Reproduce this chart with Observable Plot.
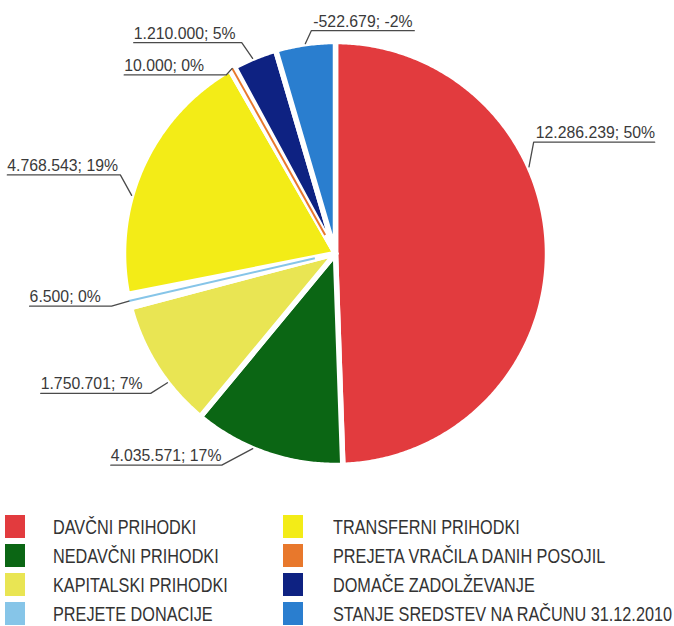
<!DOCTYPE html>
<html>
<head>
<meta charset="utf-8">
<script src="https://cdn.jsdelivr.net/npm/d3@7"></script>
<script src="https://cdn.jsdelivr.net/npm/@observablehq/plot@0.6"></script>
<style>
  html, body { margin: 0; padding: 0; background: #ffffff; }
  #wrap { position: relative; width: 674px; height: 626px; overflow: hidden; }
  #wrap svg { display: block; }
  .lg-item { position: absolute; height: 24px; }
  .lg-sw { position: absolute; left: 0; top: 0px; width: 20px; height: 23px; }
  .lg-tx { position: absolute; top: 0; line-height: 24px; font-family: "Liberation Sans", Arial, sans-serif;
           font-size: 21px; color: #333333; white-space: nowrap; transform-origin: 0 50%; }
</style>
</head>
<body>
<div id="wrap"></div>
<script>
// ---------- data ----------
const categories = [
  "DAVČNI PRIHODKI",
  "NEDAVČNI PRIHODKI",
  "KAPITALSKI PRIHODKI",
  "PREJETE DONACIJE",
  "TRANSFERNI PRIHODKI",
  "PREJETA VRAČILA DANIH POSOJIL",
  "DOMAČE ZADOLŽEVANJE",
  "STANJE SREDSTEV NA RAČUNU 31.12.2010"
];
const amountLabels = ["12.286.239", "4.035.571", "1.750.701", "6.500", "4.768.543", "10.000", "1.210.000", "-522.679"];
const percentLabels = ["50%", "17%", "7%", "0%", "19%", "0%", "5%", "-2%"];
// share of the circle each slice occupies as drawn in the picture (percent)
const drawnSharePct = [49.45, 11.55, 9.9, 1.0, 19.8, 0.4, 3.35, 4.55];
const colors = ["#e23b3e", "#0b6614", "#e9e553", "#86c5e8", "#f3ec17", "#e8782c", "#0e2282", "#2a7ecf"];

// ---------- layout ----------
const W = 674, H = 490, R = 212, CX = 335, CY = 253;
// label leader layout (pixels): position along slice, elbow offset from slice edge, underline length
const labelLayout = [
  {frac: 0.37, ex: 4.7,  ey: -24.6, len: 121},
  {frac: 0.60, ex: -31,  ey: 16.5,  len: -111},
  {frac: 0.36, ex: -16.8, ey: 10.6, len: -110},
  {frac: 0.50, ex: -17.3, ey: 5.1,  len: -82},
  {frac: 0.38, ex: -11.3, ey: -20.4, len: -113},
  {frac: 0.50, ex: -6,   ey: 6.6,   len: -102},
  {frac: 0.45, ex: -10.9, ey: -15.7, len: -108},
  {frac: 0.50, ex: 6,    ey: -13,   len: 103}
];

const deg = Math.PI / 180;
let acc = 0;
const slices = categories.map((name, i) => {
  const a0 = acc * 3.6;
  acc += drawnSharePct[i];
  const a1 = acc * 3.6;
  return {name, i, a0, a1, color: colors[i], thin: drawnSharePct[i] < 1.5};
});

function arcPolygon(s) {
  const pts = [{x: 0, y: 0}];
  const n = Math.max(2, Math.ceil((s.a1 - s.a0) / 0.5));
  for (let k = 0; k <= n; k++) {
    const a = (s.a0 + (s.a1 - s.a0) * k / n) * deg;
    pts.push({x: Math.sin(a), y: Math.cos(a)});
  }
  pts.push({x: 0, y: 0});
  return pts;
}

const marks = [];
slices.forEach(s => {
  marks.push(Plot.line(arcPolygon(s), {
    x: "x", y: "y", curve: "linear",
    fill: s.thin ? "white" : s.color,
    stroke: "white", strokeWidth: 5.5, strokeLinejoin: "round"
  }));
});
const thin = slices.filter(s => s.thin).map(s => ({...s, m: (s.a0 + s.a1) / 2 * deg}));
marks.push(Plot.link(thin, {
  x1: d => Math.sin(d.m) * 0.1, y1: d => Math.cos(d.m) * 0.1,
  x2: d => Math.sin(d.m) * 1.0, y2: d => Math.cos(d.m) * 1.0,
  stroke: d => d.color, strokeWidth: 2
}));

// leaders & labels
const leaderPts = [];
const labelData = [];
slices.forEach((s, i) => {
  const L = labelLayout[i];
  const a = (s.a0 + (s.a1 - s.a0) * L.frac) * deg;
  const ax = Math.sin(a), ay = Math.cos(a);
  const exx = ax + L.ex / R, eyy = ay - L.ey / R;
  const endx = exx + L.len / R;
  leaderPts.push({k: i, x: ax, y: ay}, {k: i, x: exx, y: eyy}, {k: i, x: endx, y: eyy});
  labelData.push({
    text: amountLabels[i] + "; " + percentLabels[i],
    x: Math.min(exx, endx) + (L.len > 0 ? 2 / R : 0),
    y: eyy
  });
});
marks.push(Plot.line(leaderPts, {x: "x", y: "y", z: "k", stroke: "#4a4a4a", strokeWidth: 1.3, curve: "linear"}));
marks.push(Plot.text(labelData, {
  x: "x", y: "y", text: "text", textAnchor: "start", lineAnchor: "bottom", dy: -4,
  fill: "#3a3a3a", fontSize: 15.8, fontFamily: "'Liberation Sans', Arial, sans-serif"
}));

const chart = Plot.plot({
  width: W, height: H,
  margin: 0,
  x: {domain: [-CX / R, (W - CX) / R], axis: null},
  y: {domain: [-(H - CY) / R, CY / R], axis: null},
  style: {background: "white", overflow: "visible"},
  marks
});

const wrap = document.getElementById("wrap");
wrap.appendChild(chart);

// legend (column-major, 4 rows), condensed type as in the reference
const rowCenters0 = 527, rowStep = 29;
const colLeft = [5, 283];
const textLeft = [48, 50];
const texts = [];
categories.forEach((name, i) => {
  const col = Math.floor(i / 4), row = i % 4;
  const item = document.createElement("div");
  item.className = "lg-item";
  item.style.left = colLeft[col] + "px";
  item.style.top = (rowCenters0 + row * rowStep - 12) + "px";
  const sw = document.createElement("div");
  sw.className = "lg-sw";
  sw.style.background = colors[i];
  const tx = document.createElement("div");
  tx.className = "lg-tx";
  tx.style.left = textLeft[col] + "px";
  tx.textContent = name;
  item.appendChild(sw); item.appendChild(tx);
  wrap.appendChild(item);
  texts.push(tx);
});
// condense: longest legend entry spans about 339 px in the reference
const longest = texts[7].getBoundingClientRect().width;
const k = Math.min(1, 339 / longest);
texts.forEach(t => { t.style.transform = `scaleX(${k})`; });
</script>
</body>
</html>
